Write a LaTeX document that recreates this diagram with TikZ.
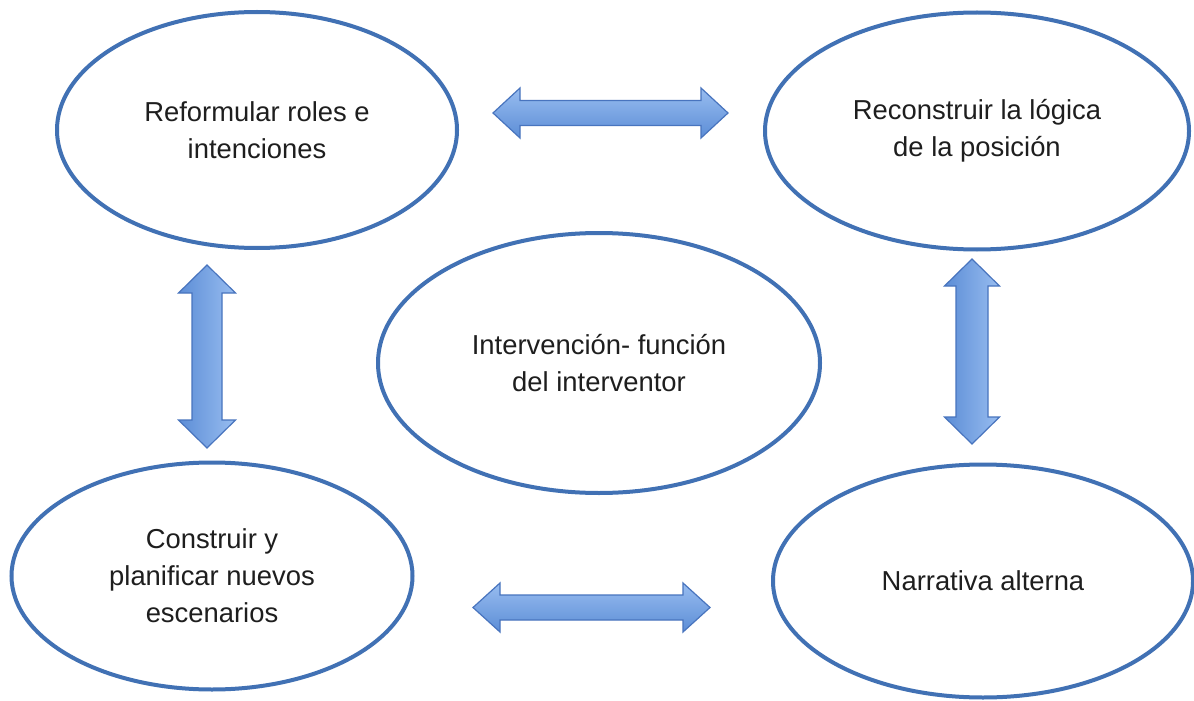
\documentclass[tikz,border=0pt]{standalone}
\usepackage{fontspec}
\setmainfont{Liberation Sans}
\usetikzlibrary{shapes.geometric,calc}
\definecolor{ellline}{RGB}{65,113,180}
\definecolor{arrlight}{RGB}{152,189,240}
\definecolor{arrdark}{RGB}{92,141,214}
\definecolor{arrline}{RGB}{72,116,190}
\definecolor{txt}{RGB}{30,30,30}
\tikzset{
  ell/.style={ellipse, draw=ellline, line width=2pt, fill=white, inner sep=0pt,
    align=center, text=txt, font=\fontsize{13.7}{18.5}\selectfont},
  harrow/.style={draw=arrline, line width=0.6pt, top color=arrlight, bottom color=arrdark, line join=miter},
  varrow/.style={draw=arrline, line width=0.6pt, left color=arrdark, right color=arrlight, line join=miter}
}
\begin{document}
\begin{tikzpicture}[x=0.5pt,y=-0.5pt]
\useasboundingbox[fill=white] (0,0) rectangle (1194,701);
% ellipses
\node[ell, minimum width=200pt, minimum height=118pt] (tl) at (257,130) {Reformular roles e\\intenciones};
\node[ell, minimum width=212pt, minimum height=118.5pt] (tr) at (977,131) {Reconstruir la lógica\\de la posición};
\node[ell, minimum width=221pt, minimum height=130pt] (c) at (599,363) {Intervención- función\\del interventor};
\node[ell, minimum width=200.5pt, minimum height=113.5pt] (bl) at (212,576) {Construir y\\planificar nuevos\\escenarios};
\node[ell, minimum width=210pt, minimum height=116.5pt] (br) at (983,581) {Narrativa alterna};
% arrow tips
\coordinate (ta) at (493,113);
\coordinate (tb) at (728,113);
\coordinate (ba) at (473,607.5);
\coordinate (bb) at (710,607.5);
\coordinate (la) at (207,265);
\coordinate (lb) at (207,448);
\coordinate (ra) at (972,259);
\coordinate (rb) at (972,444);
% top horizontal arrow
\draw[harrow] (ta) -- ++(27,-25) -- ++(0,12.5) -- ($(tb)+(-27,-12.5)$) -- ++(0,-12.5) -- (tb)
  -- ++(-27,25) -- ++(0,-12.5) -- ($(ta)+(27,12.5)$) -- ++(0,12.5) -- cycle;
% bottom horizontal arrow
\draw[harrow] (ba) -- ++(27,-24.5) -- ++(0,12) -- ($(bb)+(-27,-12.5)$) -- ++(0,-12) -- (bb)
  -- ++(-27,24.5) -- ++(0,-12) -- ($(ba)+(27,12.5)$) -- ++(0,12) -- cycle;
% left vertical arrow
\draw[varrow] (la) -- ++(28.5,28) -- ++(-13.5,0) -- ($(lb)+(15,-28)$) -- ++(13.5,0) -- (lb)
  -- ++(-28.5,-28) -- ++(13.5,0) -- ($(la)+(-15,28)$) -- ++(-13.5,0) -- cycle;
% right vertical arrow
\draw[varrow] (ra) -- ++(27.5,27) -- ++(-11.5,0) -- ($(rb)+(16,-27)$) -- ++(11.5,0) -- (rb)
  -- ++(-27.5,-27) -- ++(11.5,0) -- ($(ra)+(-16,27)$) -- ++(-11.5,0) -- cycle;
\end{tikzpicture}
\end{document}
